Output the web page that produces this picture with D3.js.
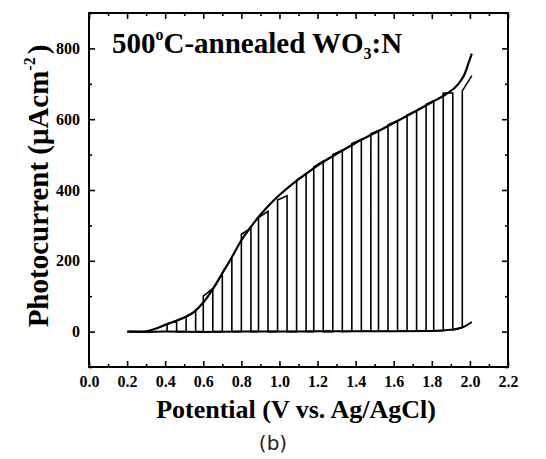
<!DOCTYPE html>
<html>
<head>
<meta charset="utf-8">
<script src="https://cdn.jsdelivr.net/npm/d3@7"></script>
<style>
body { margin: 0; background: #fff; }
</style>
</head>
<body>
<div id="chart"></div>
<script>
// continuous scan under illumination
var lightV = [0.20, 0.28, 0.32, 0.36, 0.40, 0.45, 0.50, 0.55, 0.60, 0.65, 0.70, 0.75, 0.80, 0.85, 0.90, 0.95, 1.00, 1.05, 1.10, 1.15, 1.20, 1.30, 1.40, 1.50, 1.60, 1.70, 1.80, 1.87, 1.94, 1.97, 2.00, 2.01];
var lightJ = [0, 0, 3, 10, 19, 29, 40, 55, 82, 120, 165, 210, 258, 296, 330, 360, 386, 409, 430, 450, 469, 502, 533, 561, 589, 618, 648, 669, 700, 725, 770, 785];

// dark scan
var darkV = [0.21, 0.30, 0.40, 0.60, 0.80, 1.00, 1.20, 1.40, 1.60, 1.80, 1.85, 1.90, 1.95, 1.98, 2.01];
var darkJ = [0, -1, 0, -1, 0, 0, 1, 1, 1, 2, 3, 5, 10, 17, 27];

// chopped scan: potential of each light on/off switch, current with light, current in the dark
var chopV = [0.41, 0.46, 0.51, 0.56, 0.60, 0.65, 0.70, 0.75, 0.80, 0.85, 0.89, 0.94, 0.99, 1.04, 1.09, 1.14, 1.18,
             1.23, 1.28, 1.33, 1.38, 1.43, 1.48, 1.52, 1.57, 1.62, 1.67, 1.72, 1.77, 1.81, 1.86, 1.91, 1.96, 2.01];
var chopTop = [21, 30, 41, 57, 100, 122, 166, 208, 275, 292, 322, 340, 372, 384, 428, 446, 465,
               482, 500, 512, 531, 543, 559, 568, 584, 596, 612, 624, 642, 652, 674, 674, 680, 723];
var chopBase = [0, 0, 0, 0, 0, 0, 0, 0, 0, 0, 0, 0, 0, 0, 0, 0, 0,
                0, 0, 0, 1, 1, 1, 1, 1, 1, 1, 1, 2, 2, 3, 5, 11, 27];

var xTicks = [0, 0.2, 0.4, 0.6, 0.8, 1.0, 1.2, 1.4, 1.6, 1.8, 2.0, 2.2];
var xMinor = [0.1, 0.3, 0.5, 0.7, 0.9, 1.1, 1.3, 1.5, 1.7, 1.9, 2.1];
var yTicks = [0, 200, 400, 600, 800];
var yMinor = [-100, 100, 300, 500, 700, 900];

var width = 546, height = 459;
var margin = ({ top: 13, right: 38, bottom: 92, left: 89 });
var serif = "'Liberation Serif', 'Times New Roman', serif";

var svg = d3.select("#chart")
    .append("svg")
    .attr("width", width)
    .attr("height", height);

var x = d3.scaleLinear()
    .domain([0, 2.2])
    .range([margin.left, width - margin.right]);
var y = d3.scaleLinear()
    .domain([-100, 900])
    .range([height - margin.bottom, margin.top]);

// ticks point inwards on all four sides
function styleAxis(g) {
    g.select(".domain").remove();
    g.selectAll(".tick line").attr("stroke", "#000").attr("stroke-width", 1.6);
    g.selectAll("text")
        .attr("font-family", serif)
        .attr("font-weight", "bold")
        .attr("font-size", 16)
        .attr("fill", "#000");
}

svg.append("g")
    .attr("transform", `translate(0,${y.range()[0]})`)
    .call(d3.axisBottom(x).tickValues(xTicks).tickSize(-6).tickPadding(9).tickFormat(d3.format(".1f")))
    .call(styleAxis);
svg.append("g")
    .attr("transform", `translate(0,${y.range()[0]})`)
    .call(d3.axisBottom(x).tickValues(xMinor).tickSize(-3).tickFormat(""))
    .call(styleAxis);
svg.append("g")
    .attr("transform", `translate(0,${margin.top})`)
    .call(d3.axisTop(x).tickValues(xTicks).tickSize(-6).tickFormat(""))
    .call(styleAxis);
svg.append("g")
    .attr("transform", `translate(0,${margin.top})`)
    .call(d3.axisTop(x).tickValues(xMinor).tickSize(-3).tickFormat(""))
    .call(styleAxis);

svg.append("g")
    .attr("transform", `translate(${margin.left},0)`)
    .call(d3.axisLeft(y).tickValues(yTicks).tickSize(-6).tickPadding(9))
    .call(styleAxis);
svg.append("g")
    .attr("transform", `translate(${margin.left},0)`)
    .call(d3.axisLeft(y).tickValues(yMinor).tickSize(-3).tickFormat(""))
    .call(styleAxis);
svg.append("g")
    .attr("transform", `translate(${width - margin.right},0)`)
    .call(d3.axisRight(y).tickValues(yTicks).tickSize(-6).tickFormat(""))
    .call(styleAxis);
svg.append("g")
    .attr("transform", `translate(${width - margin.right},0)`)
    .call(d3.axisRight(y).tickValues(yMinor).tickSize(-3).tickFormat(""))
    .call(styleAxis);

// plot frame
svg.append("rect")
    .attr("x", x(0))
    .attr("y", y(900))
    .attr("width", x(2.2) - x(0))
    .attr("height", y(-100) - y(900))
    .attr("fill", "none")
    .attr("stroke", "#000")
    .attr("stroke-width", 2);

// curves
var smooth = d3.line()
    .x(d => x(d[0]))
    .y(d => y(d[1]))
    .curve(d3.curveMonotoneX);
var straight = d3.line()
    .x(d => x(d[0]))
    .y(d => y(d[1]));

svg.append("path")
    .datum(darkV.map((v, i) => [v, darkJ[i]]))
    .attr("d", smooth)
    .attr("fill", "none")
    .attr("stroke", "#000")
    .attr("stroke-width", 2);

// chopped scan: up at light on, down at light off
var chopPts = [];
chopV.forEach(function (v, i) {
    if (i % 2 === 0) {
        chopPts.push([v, chopBase[i]], [v, chopTop[i]]);
    } else {
        chopPts.push([v, chopTop[i]]);
        if (i < chopV.length - 1) chopPts.push([v, chopBase[i]]);
    }
});
svg.append("path")
    .datum(chopPts)
    .attr("d", straight)
    .attr("fill", "none")
    .attr("stroke", "#000")
    .attr("stroke-width", 1.6)
    .attr("stroke-linejoin", "miter");

svg.append("path")
    .datum(lightV.map((v, i) => [v, lightJ[i]]))
    .attr("d", smooth)
    .attr("fill", "none")
    .attr("stroke", "#000")
    .attr("stroke-width", 2.2);

// title inside the plot
var title = svg.append("text")
    .attr("x", 112)
    .attr("y", 53)
    .attr("font-family", serif)
    .attr("font-weight", "bold")
    .attr("font-size", 29);
title.append("tspan").text("500");
title.append("tspan").text("o").attr("font-size", 16).attr("dy", -13);
title.append("tspan").text("C-annealed WO").attr("dy", 13);
title.append("tspan").text("3").attr("font-size", 16).attr("dy", 6);
title.append("tspan").text(":N").attr("dy", -6);

// axis titles
svg.append("text")
    .attr("x", 296)
    .attr("y", 418)
    .attr("text-anchor", "middle")
    .attr("font-family", serif)
    .attr("font-weight", "bold")
    .attr("font-size", 26)
    .text("Potential (V vs. Ag/AgCl)");

var ytitle = svg.append("text")
    .attr("transform", "translate(48,186) rotate(-90)")
    .attr("text-anchor", "middle")
    .attr("font-family", serif)
    .attr("font-weight", "bold")
    .attr("font-size", 29);
ytitle.append("tspan").text("Photocurrent (μAcm");
ytitle.append("tspan").text("-2").attr("font-size", 16).attr("dy", -13);
ytitle.append("tspan").text(")").attr("dy", 13).attr("dx", 3);

svg.append("text")
    .attr("x", 273)
    .attr("y", 450)
    .attr("text-anchor", "middle")
    .attr("font-family", "'DejaVu Sans', sans-serif")
    .attr("font-size", 20)
    .attr("fill", "#222")
    .text("(b)");
</script>
</body>
</html>
